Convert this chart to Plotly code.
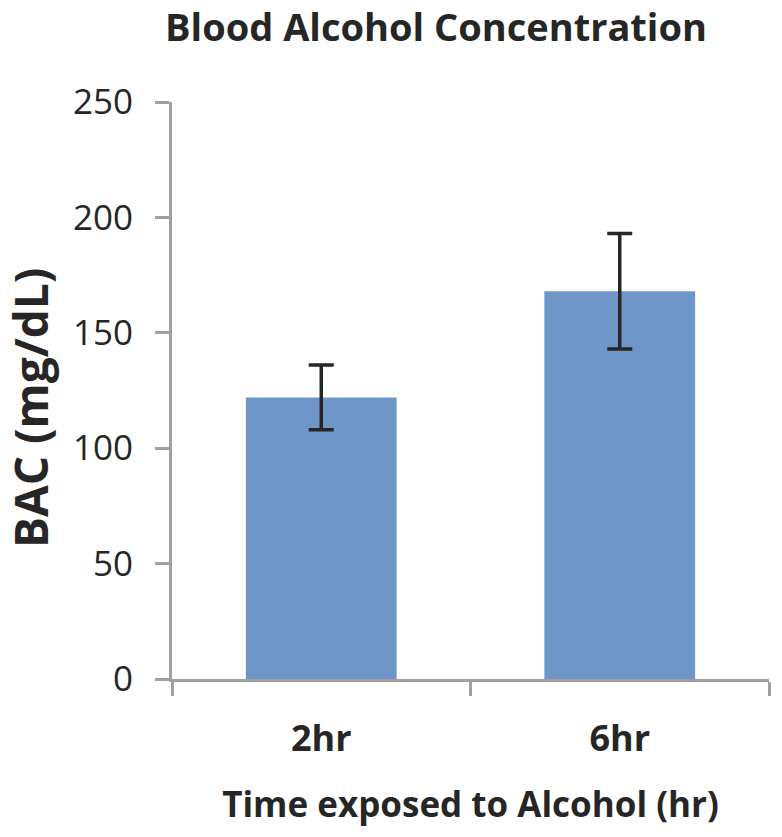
import plotly.graph_objects as go

categories = ["2hr", "6hr"]
bac_values = [122, 168]
bac_errors = [14, 25]
y_ticks = [0, 50, 100, 150, 200, 250]

W, H = 782, 837
L, R, T, B = 172, 13, 102, 158
PW, PH = W - L - R, H - T - B
FONT = "Open Sans"
TXT = "#262626"
AX = "#a0a0a0"

fig = go.Figure()
fig.add_trace(go.Bar(
    x=categories, y=bac_values,
    marker=dict(color="#6f96c8", line=dict(width=0)),
    error_y=dict(type="data", array=bac_errors, visible=True,
                 color="#262626", thickness=3.5, width=12.5),
    width=0.505,
))

fig.update_layout(
    width=W, height=H,
    margin=dict(l=L, r=R, t=T, b=B),
    paper_bgcolor="white", plot_bgcolor="white",
    showlegend=False,
    font=dict(family=FONT, color=TXT),
    title=dict(text="<b>Blood Alcohol Concentration</b>", x=436/W, xanchor="center",
               y=1-28/H, yanchor="middle", yref="container",
               font=dict(family=FONT, size=38, color=TXT)),
    xaxis=dict(
        type="category", range=[-0.5, 1.5], tickson="boundaries",
        showline=True, linecolor=AX, linewidth=3,
        ticks="outside", ticklen=14, tickwidth=3, tickcolor=AX,
        showgrid=False, zeroline=False,
        tickfont=dict(family=FONT, size=36, color=TXT),
        tickprefix="<b>", ticksuffix="</b>",
        ticklabelstandoff=26,
        title=dict(text="<b>Time exposed to Alcohol (hr)</b>",
                   font=dict(family=FONT, size=35, color=TXT), standoff=32),
    ),
    yaxis=dict(
        range=[0, 250], tickvals=y_ticks,
        showline=True, linecolor=AX, linewidth=3,
        ticks="outside", ticklen=14, tickwidth=3, tickcolor=AX,
        showgrid=False, zeroline=False,
        tickfont=dict(family=FONT, size=35, color=TXT),
        ticklabelstandoff=15,
    ),
    annotations=[dict(
        text="<b>BAC (mg/dL)</b>", textangle=-90, showarrow=False,
        xref="paper", yref="paper",
        x=(30 - L) / PW, y=(H - B - 408) / PH,
        xanchor="center", yanchor="middle",
        font=dict(family=FONT, size=46, color=TXT),
    )],
)

fig.write_html("out.html", config={"displayModeBar": False},
               post_script="document.body.style.margin='0';")
